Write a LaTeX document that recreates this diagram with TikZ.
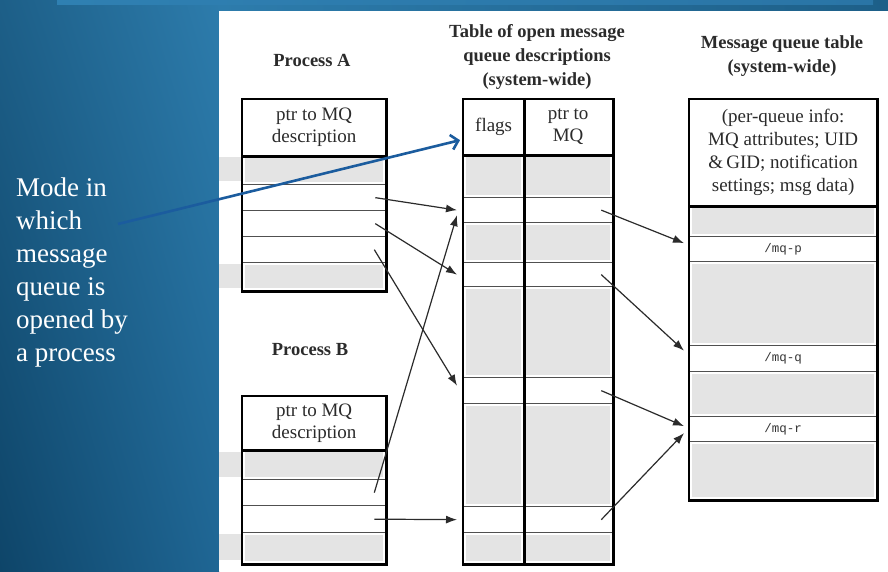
\documentclass[tikz,border=0pt]{standalone}
\usepackage{fontspec}
\setmainfont{Liberation Serif}
\setmonofont{Liberation Mono}
\usetikzlibrary{arrows.meta,calc,shadings}
\definecolor{cellgray}{HTML}{E4E4E4}
\definecolor{rowline}{HTML}{505050}
\definecolor{inkc}{HTML}{2B2B2B}
\definecolor{annblue}{HTML}{1B5C9E}
\definecolor{bgA}{HTML}{1D5F88}
\definecolor{bgB}{HTML}{2D7CAC}
\definecolor{bgC}{HTML}{0E4569}
\definecolor{bgD}{HTML}{1F6694}
\definecolor{bandA}{HTML}{2F80B2}
\definecolor{bandM}{HTML}{459CCE}
\definecolor{bandR}{HTML}{2A75A6}
\begin{document}
\begin{tikzpicture}[x=1pt,y=-1pt,
  cell/.style={rectangle,draw=rowline,line width=1.3pt,inner sep=0pt,anchor=north west,fill=white,text=inkc},
  gcell/.style={cell,path picture={\fill[cellgray] ([shift={(2.2pt,-2.2pt)}]path picture bounding box.north west) rectangle ([shift={(-2.2pt,2.2pt)}]path picture bounding box.south east);}},
  bodyfont/.style={font=\fontsize{19}{22}\selectfont},
  titlefont/.style={font=\bfseries\fontsize{18.5}{24}\selectfont,text=inkc},
  monofont/.style={font=\ttfamily\fontsize{12.5}{14}\selectfont,text=black!80},
  frame/.style={draw=black,line width=2.4pt},
  conn/.style={draw=inkc,line width=1.2pt,-{Latex[length=11pt,width=8pt]}},
  ann/.style={draw=annblue,line width=2.6pt,-{Straight Barb[length=7pt,width=15pt,line width=2.6pt]}}
]
\useasboundingbox (0,0) rectangle (888,571);
% background
\shade[upper left=bgA,upper right=bgB,lower left=bgC,lower right=bgD] (0,571) rectangle (219,0);
\shade[left color=bgB,right color=bgA] (219,0) rectangle (888,11);
\shade[left color=bandA,middle color=bandM,right color=bandR] (57,0) rectangle (873,4);
\fill[white] (219,11) rectangle (888,571);

% left gray extensions
\fill[cellgray] (219,157) rectangle (242,181);
\fill[cellgray] (219,264) rectangle (242,288);
\fill[cellgray] (219,452) rectangle (242,477);
\fill[cellgray] (219,534) rectangle (242,560);

% Process A
\node[titlefont] (pA) at (312,60) {Process A};
\node[cell,bodyfont,align=center,minimum width=143pt,minimum height=56pt] (a0) at (242,99) {ptr to MQ\\description};
\node[gcell,minimum width=143pt,minimum height=29pt] (a1) at (242,155) {};
\node[cell,minimum width=143pt,minimum height=26pt] (a2) at (242,184) {};
\node[cell,minimum width=143pt,minimum height=26pt] (a3) at (242,210) {};
\node[cell,minimum width=143pt,minimum height=26pt] (a4) at (242,236) {};
\node[gcell,minimum width=143pt,minimum height=28pt] (a5) at (242,262) {};
\draw[frame] (a0.south west) -- (a0.south east);
\draw[frame] (a0.north west) rectangle (a5.south east);

% Process B
\node[titlefont] (pB) at (310,350) {Process B};
\node[cell,bodyfont,align=center,minimum width=143pt,minimum height=53pt] (b0) at (242,396) {ptr to MQ\\description};
\node[gcell,minimum width=143pt,minimum height=30pt] (b1) at (242,449) {};
\node[cell,minimum width=143pt,minimum height=26pt] (b2) at (242,479) {};
\node[cell,minimum width=143pt,minimum height=27pt] (b3) at (242,505) {};
\node[gcell,minimum width=143pt,minimum height=31pt] (b4) at (242,532) {};
\draw[frame] (b0.south west) -- (b0.south east);
\draw[frame] (b0.north west) rectangle (b4.south east);

% Open message queue descriptions table
\node[titlefont,align=center] (tT) at (537,57) {Table of open message\\queue descriptions\\(system-wide)};
\node[cell,bodyfont,minimum width=60pt,minimum height=55pt] (t0f) at (463,99) {flags};
\node[cell,bodyfont,align=center,minimum width=89pt,minimum height=55pt] (t0p) at (523,99) {ptr to\\MQ};
\foreach \n/\y/\h/\s in {1/154/43/gcell,2/197/25/cell,3/222/40/gcell,4/262/24/cell,5/286/91/gcell,6/377/26/cell,7/403/103/gcell,8/506/26/cell,9/532/31/gcell}{
  \node[\s,minimum width=60pt,minimum height=\h pt] (t\n f) at (463,\y) {};
  \node[\s,minimum width=89pt,minimum height=\h pt] (t\n p) at (523,\y) {};
}
\draw[frame] (t0f.south west) -- (t0p.south east);
\draw[frame] (t0f.north east) -- (t9f.south east);
\draw[frame] (t0f.north west) rectangle (t9p.south east);

% Message queue table
\node[titlefont,align=center] (mT) at (782,56) {Message queue table\\(system-wide)};
\node[cell,bodyfont,align=center,minimum width=187pt,minimum height=106pt,font=\fontsize{19}{23}\selectfont] (m0) at (689,99) {(per-queue info:\\MQ attributes; UID\\\&\,GID; notification\\settings; msg data)};
\node[gcell,minimum width=187pt,minimum height=31pt] (m1) at (689,205) {};
\node[cell,monofont,minimum width=187pt,minimum height=25pt] (m2) at (689,236) {/mq-p};
\node[gcell,minimum width=187pt,minimum height=84pt] (m3) at (689,261) {};
\node[cell,monofont,minimum width=187pt,minimum height=26pt] (m4) at (689,345) {/mq-q};
\node[gcell,minimum width=187pt,minimum height=45pt] (m5) at (689,371) {};
\node[cell,monofont,minimum width=187pt,minimum height=25pt] (m6) at (689,416) {/mq-r};
\node[gcell,minimum width=187pt,minimum height=58pt] (m7) at (689,441) {};
\draw[frame] (m0.south west) -- (m0.south east);
\draw[frame] (m0.north west) rectangle (m7.south east);

% connectors processes -> open descriptions
\draw[conn] ([xshift=-11pt]a2.east) -- ($(t2f.west)+(-6,0)$);
\draw[conn] ([xshift=-11pt]a3.east) -- ($(t4f.west)+(-6,0)$);
\draw[conn] ([xshift=-12pt]a4.east) -- ($(t6f.west)+(-6,-5)$);
\draw[conn] ([xshift=-12pt]b2.east) -- ($(t2f.west)+(-6,5)$);
\draw[conn] ([xshift=-12pt]b3.east) -- ($(t8f.west)+(-6,0)$);
% open descriptions -> message queues
\draw[conn] ([xshift=-12pt]t2p.east) -- ($(m2.west)+(-5,-6)$);
\draw[conn] ([xshift=-12pt]t4p.east) -- ($(m4.west)+(-5,-8)$);
\draw[conn] ([xshift=-12pt]t6p.east) -- ($(m6.west)+(-5,-3)$);
\draw[conn] ([xshift=-12pt]t8p.east) -- ($(m6.west)+(-5,4)$);

% annotation
\node[anchor=north west,align=left,text=white,inner sep=0pt,font=\fontsize{27}{33}\selectfont] (mode) at (16,178) {Mode in\\which\\message\\queue is\\opened by\\a process};
\coordinate (annstart) at (118,224);
\draw[ann] (annstart) -- ($(t0f.west)+(-3,13)$);
\end{tikzpicture}
\end{document}
